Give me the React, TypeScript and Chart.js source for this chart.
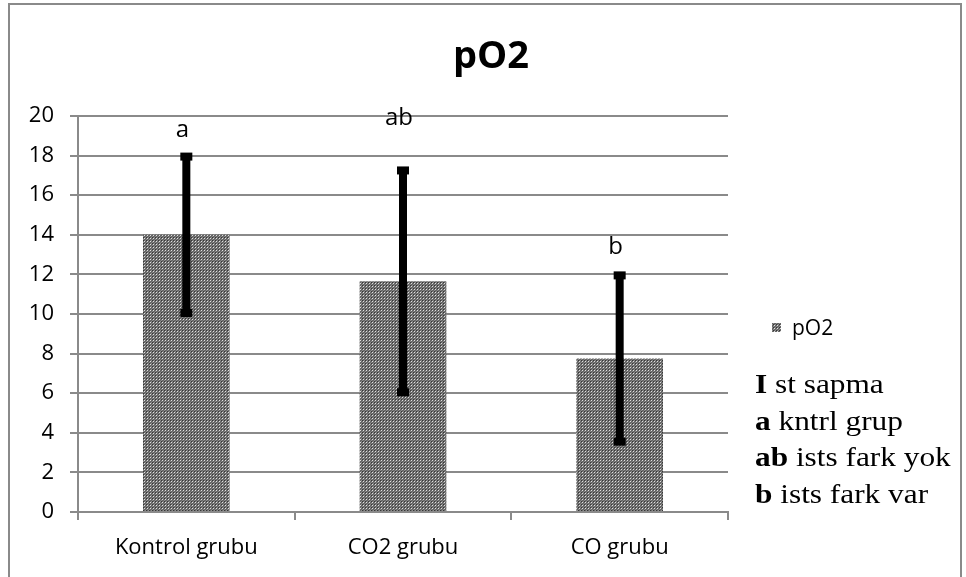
import React, { useEffect, useRef } from "react";
import { Chart, registerables } from "chart.js";

Chart.register(...registerables);

const chartTitle = "pO2";
const seriesName = "pO2";
const categories = ["Kontrol grubu", "CO2 grubu", "CO grubu"];
const means = [14, 11.65, 7.75];
const sds = [3.95, 5.6, 4.2];
const sigLetters = ["a", "ab", "b"];
const sigLetterY = [19.3, 19.9, 13.4];
const yMin = 0;
const yMax = 20;
const yStep = 2;
const noteKeys = ["I", "a", "ab", "b"];
const noteTexts = [" st sapma", " kntrl grup", " ists fark yok", " ists fark var"];

const SANS = "'Open Sans', 'Noto Sans', sans-serif";
const SERIF = "'Liberation Serif', 'DejaVu Serif', serif";

function makePattern(): CanvasPattern | string {
  const tile = document.createElement("canvas");
  tile.width = 3;
  tile.height = 3;
  const t = tile.getContext("2d");
  if (!t) return "#888";
  t.fillStyle = "#666666";
  t.fillRect(0, 0, 3, 3);
  t.fillStyle = "#363636";
  t.fillRect(0, 0, 1, 1);
  t.fillStyle = "#8e8e8e";
  t.fillRect(2, 0, 1, 1);
  t.fillRect(0, 2, 1, 1);
  t.fillStyle = "#e0e0e0";
  t.fillRect(1, 1, 1, 1);
  const ctx = document.createElement("canvas").getContext("2d");
  const p = ctx ? ctx.createPattern(tile, "repeat") : null;
  return p || "#888";
}

export default function App() {
  const ref = useRef<HTMLCanvasElement | null>(null);

  useEffect(() => {
    if (!ref.current) return;
    const pattern = makePattern();

    const overlay = {
      id: "overlay",
      afterDatasetsDraw(chart: any) {
        const ctx = chart.ctx;
        const y = chart.scales.y;
        const meta = chart.getDatasetMeta(0);
        ctx.save();
        meta.data.forEach((el: any, i: number) => {
          const x = el.x;
          const top = y.getPixelForValue(means[i] + sds[i]);
          const bot = y.getPixelForValue(means[i] - sds[i]);
          ctx.fillStyle = "#000";
          ctx.fillRect(x - 4, top, 8, bot - top);
          ctx.fillRect(x - 6, top - 4, 12, 8);
          ctx.fillRect(x - 6, bot - 4, 12, 8);
          ctx.font = `24px ${SANS}`;
          ctx.textAlign = "center";
          ctx.textBaseline = "middle";
          ctx.fillText(sigLetters[i], x - 4, y.getPixelForValue(sigLetterY[i]));
        });
        ctx.restore();
      },
      afterDraw(chart: any) {
        const ctx = chart.ctx;
        ctx.save();
        // outer border
        ctx.strokeStyle = "#8a8a8a";
        ctx.lineWidth = 2;
        ctx.beginPath();
        ctx.moveTo(1, chart.height);
        ctx.lineTo(1, 1);
        ctx.lineTo(chart.width - 1, 1);
        ctx.lineTo(chart.width - 1, chart.height);
        ctx.stroke();
        // title
        ctx.fillStyle = "#000";
        ctx.font = `bold 38px ${SANS}`;
        ctx.textAlign = "center";
        ctx.textBaseline = "alphabetic";
        ctx.fillText(chartTitle, 483, 65);
        // legend
        ctx.fillStyle = pattern as any;
        ctx.fillRect(764, 320, 9, 9);
        ctx.fillStyle = "#000";
        ctx.font = `21px ${SANS}`;
        ctx.textAlign = "left";
        ctx.textBaseline = "middle";
        ctx.fillText(seriesName, 784, 326);
        // notes
        ctx.textBaseline = "alphabetic";
        let by = 390;
        const sx = 1.16;
        noteKeys.forEach((k, i) => {
          ctx.save();
          ctx.translate(747, by);
          ctx.scale(sx, 1);
          ctx.font = `bold 27px ${SERIF}`;
          ctx.fillText(k, 0, 0);
          const w = ctx.measureText(k).width;
          ctx.font = `27px ${SERIF}`;
          ctx.fillText(noteTexts[i], w, 0);
          ctx.restore();
          by += 36.5;
        });
        ctx.restore();
      },
    };

    const chart = new Chart(ref.current, {
      type: "bar",
      data: {
        labels: categories,
        datasets: [
          {
            label: seriesName,
            data: means,
            backgroundColor: pattern as any,
            borderWidth: 0,
            barPercentage: 0.4,
            categoryPercentage: 1,
          },
        ],
      },
      options: {
        animation: false,
        responsive: false,
        maintainAspectRatio: false,
        layout: { padding: { left: 0, right: 234, top: 113, bottom: 0 } },
        plugins: {
          legend: { display: false },
          tooltip: { enabled: false },
          title: { display: false },
        },
        scales: {
          x: {
            grid: {
              display: true,
              drawOnChartArea: false,
              drawTicks: true,
              tickLength: 8,
              color: "#8a8a8a",
              lineWidth: 2,
            },
            border: { display: true, color: "#8a8a8a", width: 2 },
            ticks: {
              color: "#000",
              font: { family: SANS, size: 22 },
              padding: 15,
            },
            afterFit(s: any) {
              s.height = 65;
            },
          },
          y: {
            min: yMin,
            max: yMax,
            grid: {
              color: "#8a8a8a",
              lineWidth: 2,
              tickLength: 8,
            },
            border: { display: true, color: "#8a8a8a", width: 2 },
            ticks: {
              stepSize: yStep,
              color: "#000",
              font: { family: SANS, size: 22 },
              padding: 16,
            },
            afterFit(s: any) {
              s.width = 70;
            },
          },
        },
      },
      plugins: [overlay],
    });
    return () => chart.destroy();
  }, []);

  return (
    <div style={{ position: "absolute", left: 8, top: 3, width: 954, height: 574, background: "#fff" }}>
      <canvas ref={ref} width={954} height={574} style={{ display: "block", width: 954, height: 574 }} />
    </div>
  );
}
